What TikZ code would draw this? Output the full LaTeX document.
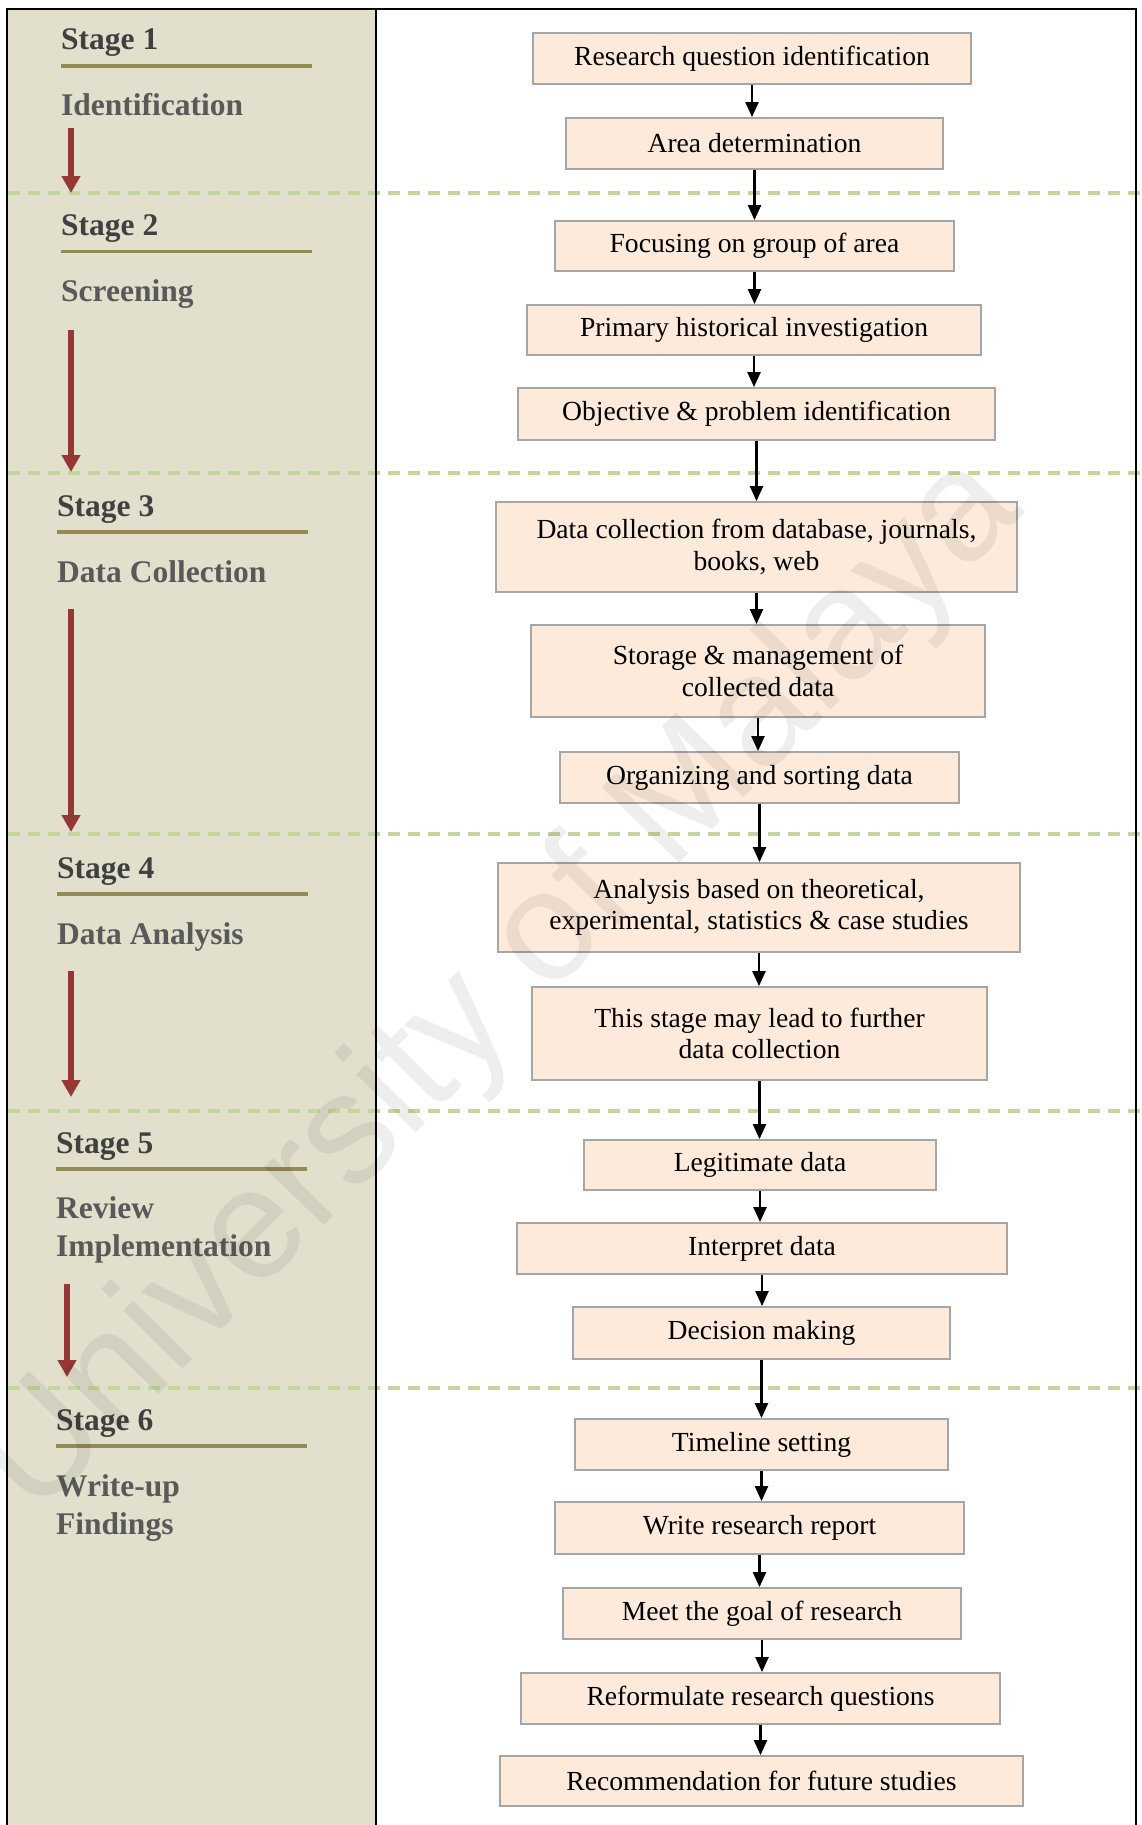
\documentclass[tikz,border=0pt]{standalone}
\usepackage{fontspec}
\setmainfont{Liberation Serif}
\newfontfamily\wmfamily{Liberation Sans}
\usetikzlibrary{arrows.meta}
\definecolor{panelbeige}{RGB}{226,223,205}
\definecolor{boxfill}{RGB}{253,234,218}
\definecolor{boxborder}{RGB}{166,166,166}
\definecolor{sepgreen}{RGB}{195,214,155}
\definecolor{olivebar}{RGB}{148,138,84}
\definecolor{arrred}{RGB}{149,55,53}
\definecolor{stagedark}{RGB}{64,64,64}
\definecolor{stagegray}{RGB}{89,89,89}
\newcommand{\bxfont}{\fontsize{27.6pt}{31.5pt}\selectfont}
\newcommand{\stgfont}{\bfseries\fontsize{31.5pt}{38pt}\selectfont}
\tikzset{
  box/.style={draw=boxborder, line width=1.8pt, fill=boxfill, inner sep=0pt, align=center, font=\bxfont},
  flow/.style={line width=2.2pt, -{Triangle[width=13pt,length=15pt]}},
  redarr/.style={draw=arrred, line width=6pt, -{Triangle[width=18pt,length=17pt]}},
  stagehead/.style={anchor=base west, inner sep=0pt, text=stagedark, font=\stgfont},
  stagename/.style={anchor=base west, inner sep=0pt, text=stagegray, font=\stgfont},
  underl/.style={draw=olivebar, line width=3.5pt},
  sepline/.style={draw=sepgreen, line width=4pt, dash pattern=on 12pt off 8pt},
}
\begin{document}
\begin{tikzpicture}[x=1pt,y=-1pt]
\useasboundingbox (0,0) rectangle (1141,1825);
% panel
\fill[panelbeige] (7,9) rectangle (376,1825);
% separators
\foreach \yy in {193,473,834,1111,1388}{
  \draw[sepline] (8,\yy) -- (1141,\yy);
}
% frame
\draw[line width=2.3pt] (7,1825) -- (7,9) -- (1136,9) -- (1136,1825);
\draw[line width=1.8pt] (376,9) -- (376,1825);

% stage labels
\node[stagehead] (s1) at (61,50) {Stage 1};
\draw[underl] (61,66) -- (312,66);
\node[stagename] (n1) at (61,116) {Identification};
\coordinate (r1a) at (71,128); \coordinate (r1b) at (71,193);
\draw[redarr] (r1a) -- (r1b);

\node[stagehead] (s2) at (61,235.5) {Stage 2};
\draw[underl] (61,251.5) -- (312,251.5);
\node[stagename] (n2) at (61,301.5) {Screening};
\coordinate (r2a) at (71,329.5); \coordinate (r2b) at (71,472);
\draw[redarr] (r2a) -- (r2b);

\node[stagehead] (s3) at (57,516) {Stage 3};
\draw[underl] (57,532) -- (308,532);
\node[stagename] (n3) at (57,582) {Data Collection};
\coordinate (r3a) at (71,609); \coordinate (r3b) at (71,832);
\draw[redarr] (r3a) -- (r3b);

\node[stagehead] (s4) at (57,878) {Stage 4};
\draw[underl] (57,894) -- (308,894);
\node[stagename] (n4) at (57,944) {Data Analysis};
\coordinate (r4a) at (71,971); \coordinate (r4b) at (71,1097);
\draw[redarr] (r4a) -- (r4b);

\node[stagehead] (s5) at (56,1153) {Stage 5};
\draw[underl] (56,1169) -- (307,1169);
\node[stagename] (n5a) at (56,1218) {Review};
\node[stagename] (n5b) at (56,1256) {Implementation};
\coordinate (r5a) at (67,1284); \coordinate (r5b) at (67,1377);
\draw[redarr] (r5a) -- (r5b);

\node[stagehead] (s6) at (56,1430) {Stage 6};
\draw[underl] (56,1446) -- (307,1446);
\node[stagename] (n6a) at (56,1496) {Write-up};
\node[stagename] (n6b) at (56,1534) {Findings};

% boxes
\node[box, minimum width=438pt, minimum height=51pt] (b1) at (752,58.5) {Research question identification};
\node[box, minimum width=377pt, minimum height=51pt] (b2) at (754.5,143.5) {Area determination};
\node[box, minimum width=399pt, minimum height=50pt] (b3) at (754.5,246) {Focusing on group of area};
\node[box, minimum width=454pt, minimum height=50pt] (b4) at (754,330) {Primary historical investigation};
\node[box, minimum width=477pt, minimum height=52pt] (b5) at (756.5,414) {Objective \& problem identification};
\node[box, minimum width=521pt, minimum height=90pt] (b6) at (756.5,547) {Data collection from database, journals,\\books, web};
\node[box, minimum width=454pt, minimum height=92pt] (b7) at (758,671) {Storage \& management of\\collected data};
\node[box, minimum width=399pt, minimum height=51pt] (b8) at (759.5,777.5) {Organizing and sorting data};
\node[box, minimum width=522pt, minimum height=89pt] (b9) at (759,907.5) {Analysis based on theoretical,\\experimental, statistics \& case studies};
\node[box, minimum width=455pt, minimum height=93pt] (b10) at (759.5,1033.5) {This stage may lead to further\\data collection};
\node[box, minimum width=352pt, minimum height=50pt] (b11) at (760,1165) {Legitimate data};
\node[box, minimum width=490pt, minimum height=51pt] (b12) at (762,1248.5) {Interpret data};
\node[box, minimum width=377pt, minimum height=52pt] (b13) at (761.5,1333) {Decision making};
\node[box, minimum width=373pt, minimum height=51pt] (b14) at (761.5,1444.5) {Timeline setting};
\node[box, minimum width=409pt, minimum height=52pt] (b15) at (759.5,1528) {Write research report};
\node[box, minimum width=398pt, minimum height=51pt] (b16) at (762,1613.5) {Meet the goal of research};
\node[box, minimum width=479pt, minimum height=51pt] (b17) at (760.5,1698.5) {Reformulate research questions};
\node[box, minimum width=523pt, minimum height=50pt] (b18) at (761.5,1781) {Recommendation for future studies};

% arrows
\foreach \a/\b in {b1/b2,b2/b3,b3/b4,b4/b5,b5/b6,b6/b7,b7/b8,b8/b9,b9/b10,b10/b11,b11/b12,b12/b13,b13/b14,b14/b15,b15/b16,b16/b17,b17/b18}{
  \draw[flow] (\a.south) -- (\a.south |- \b.north);
}

% watermark
\node[anchor=base west, rotate=45.5, inner sep=0pt, text=black, text opacity=0.065,
      font=\wmfamily\fontsize{157pt}{160pt}\selectfont] (wm) at (35,1520) {University of Malaya};
\end{tikzpicture}
\end{document}
